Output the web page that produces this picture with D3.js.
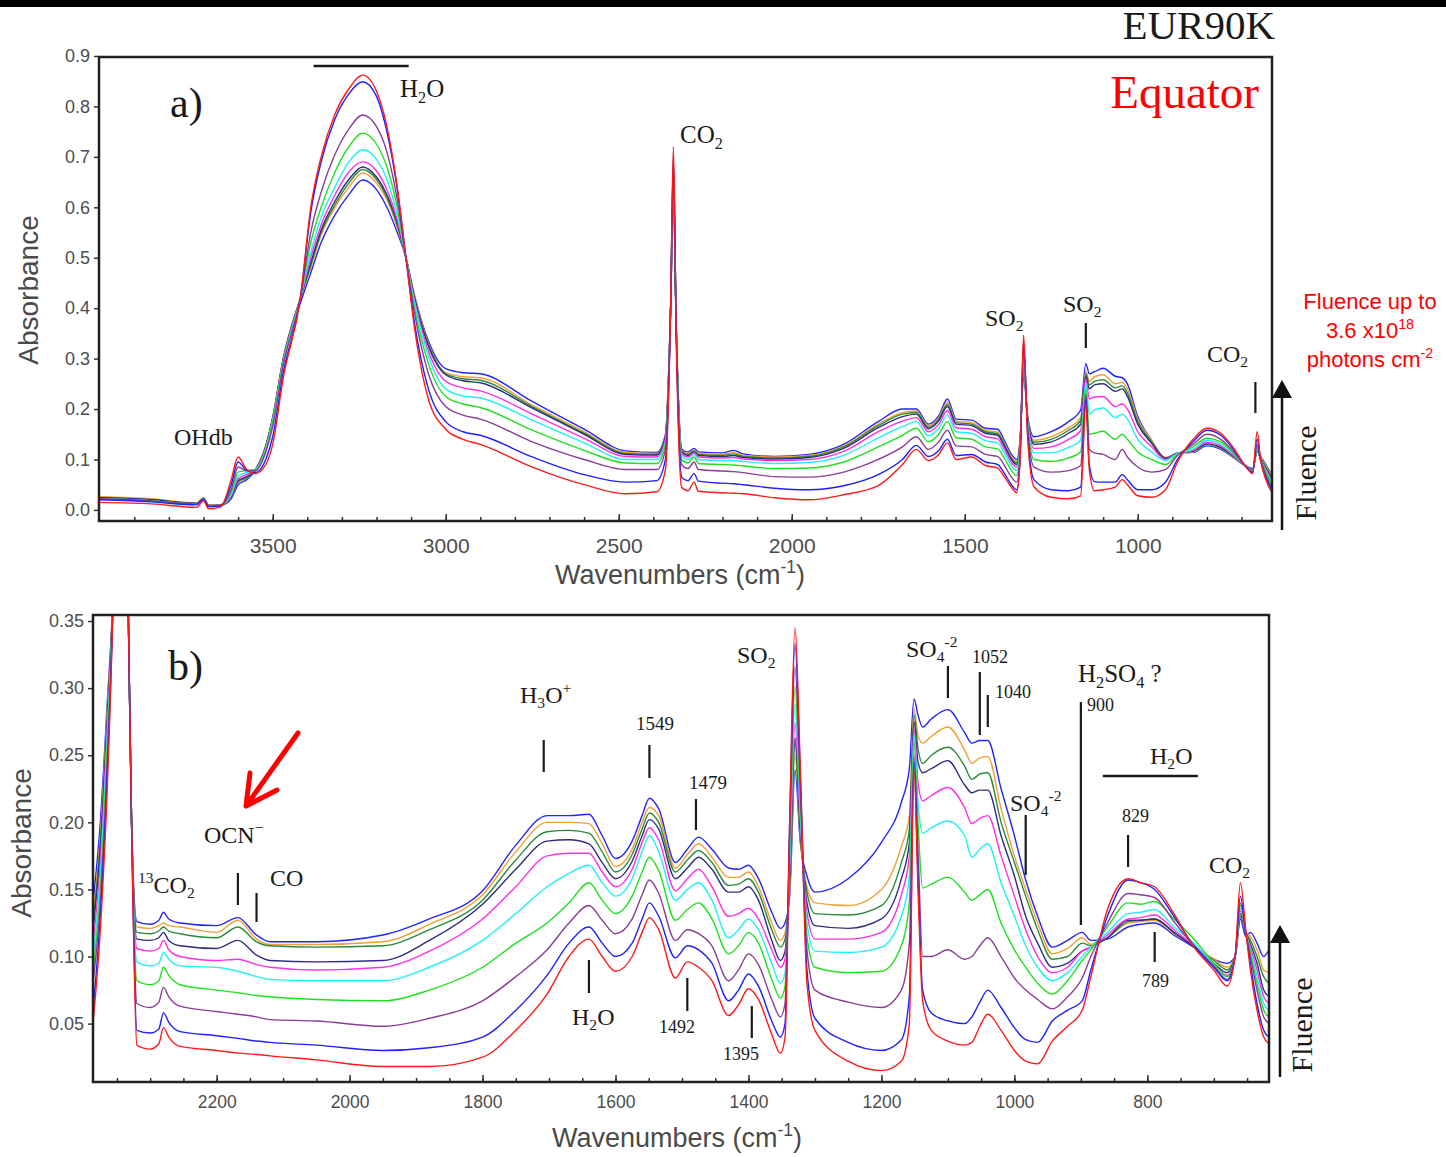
<!DOCTYPE html>
<html>
<head>
<meta charset="utf-8">
<script src="https://cdn.jsdelivr.net/npm/d3@7"></script>
<style>
  body { margin: 0; background: #fff; }
  svg { display: block; }
</style>
</head>
<body>
<div id="chart"></div>
<script>
// series order = increasing fluence: red, blue, purple, green, cyan, magenta, navy, dark green, orange, blue
var seriesColors = ['#ff1a1a', '#1f1fff', '#8b3c99', '#1fe01f', '#1ff0f5', '#ff2ee6', '#2e2e80', '#2a8a3a', '#f0a035', '#2424ff'];

// ---- panel a) full range
var aWave = [4000,3850,3720,3700,3685,3650,3620,3600,3575,3550,3520,3500,3470,3420,3390,3360,3320,3280,3240,3200,
  3170,3140,3115,3090,3050,3000,2950,2900,2750,2600,2480,2390,2365,2350,2342,2334,2318,2300,2282,2270,
  2200,2168,2140,2050,1950,1850,1750,1680,1640,1605,1575,1550,1525,1480,1440,1405,1385,1365,1350,1340,
  1330,1318,1300,1250,1200,1165,1150,1140,1125,1100,1065,1045,1030,1000,960,920,885,840,800,760,
  720,690,668,655,645,630,613];

var aRed = [.015,.012,.005,.018,.002,.006,.060,.105,.080,.072,
  .090,.130,.260,.420,.600,.700,.785,.835,.862,.830,
  .760,.640,.500,.360,.220,.160,.140,.130,.085,.050,
  .032,.036,.080,.400,.720,.350,.045,.038,.055,.037,
  .034,.033,.032,.024,.020,.030,.048,.090,.120,.098,
  .110,.133,.100,.105,.088,.083,.065,.045,.034,.100,
  .347,.140,.046,.025,.022,.028,.210,.080,.038,.040,
  .045,.060,.050,.028,.025,.040,.095,.140,.162,.152,
  .120,.088,.072,.155,.100,.060,.035];
var aBlue = [.020,.016,.010,.020,.006,.008,.050,.095,.078,.074,
  .100,.145,.270,.420,.590,.690,.775,.825,.849,.820,
  .750,.635,.500,.370,.240,.175,.155,.148,.105,.070,
  .055,.058,.100,.400,.700,.360,.065,.058,.072,.057,
  .053,.052,.050,.043,.040,.048,.070,.100,.128,.106,
  .118,.140,.108,.110,.095,.090,.072,.050,.040,.100,
  .335,.150,.060,.040,.038,.045,.220,.090,.056,.055,
  .055,.070,.060,.040,.040,.055,.100,.135,.158,.148,
  .117,.088,.074,.140,.098,.065,.040];
var aPurple = [.022,.018,.012,.022,.008,.010,.040,.085,.078,.078,
  .115,.165,.285,.420,.550,.630,.705,.755,.783,.760,
  .710,.615,.500,.390,.270,.205,.188,.180,.135,.100,
  .080,.080,.120,.400,.690,.370,.090,.082,.095,.080,
  .077,.076,.074,.066,.065,.075,.100,.125,.145,.120,
  .135,.158,.127,.125,.110,.106,.088,.065,.055,.110,
  .320,.160,.085,.075,.078,.088,.230,.120,.113,.110,
  .100,.120,.105,.085,.075,.080,.108,.130,.150,.140,
  .113,.088,.075,.130,.100,.070,.045];
var aGreen = [.022,.018,.012,.022,.008,.010,.035,.075,.078,.080,
  .120,.175,.290,.420,.530,.600,.670,.720,.747,.725,
  .680,.600,.500,.400,.290,.225,.210,.203,.158,.118,
  .093,.092,.130,.400,.680,.370,.100,.093,.105,.092,
  .090,.089,.087,.082,.083,.095,.125,.148,.162,.135,
  .150,.175,.143,.140,.125,.121,.102,.078,.068,.120,
  .310,.165,.100,.096,.103,.115,.240,.150,.152,.156,
  .140,.150,.140,.115,.100,.090,.110,.125,.142,.135,
  .110,.088,.076,.125,.100,.075,.050];
var aCyan = [.022,.018,.012,.022,.008,.010,.030,.068,.074,.080,
  .122,.178,.292,.420,.510,.580,.640,.690,.714,.695,
  .655,.585,.500,.410,.305,.240,.226,.222,.178,.133,
  .100,.100,.135,.400,.670,.370,.108,.100,.110,.100,
  .098,.098,.096,.092,.094,.108,.143,.165,.175,.147,
  .162,.188,.155,.152,.137,.133,.113,.088,.078,.125,
  .300,.170,.113,.113,.124,.138,.250,.190,.198,.202,
  .183,.190,.180,.140,.115,.098,.112,.120,.138,.130,
  .108,.088,.077,.122,.100,.078,.055];
var aMagenta = [.022,.018,.012,.022,.008,.010,.028,.062,.070,.080,
  .124,.180,.295,.420,.500,.565,.625,.670,.690,.672,
  .635,.575,.500,.415,.315,.255,.242,.236,.190,.142,
  .106,.105,.140,.400,.660,.370,.112,.105,.113,.105,
  .103,.104,.101,.098,.100,.116,.155,.176,.183,.155,
  .170,.197,.163,.160,.145,.141,.120,.094,.085,.130,
  .290,.175,.122,.125,.140,.157,.260,.220,.224,.225,
  .205,.210,.200,.155,.125,.100,.112,.118,.134,.127,
  .106,.088,.078,.120,.100,.080,.058];
var aNavy = [.024,.020,.013,.023,.009,.010,.026,.058,.066,.080,
  .126,.182,.297,.420,.490,.555,.612,.655,.680,.660,
  .625,.570,.500,.420,.325,.268,.256,.252,.202,.150,
  .110,.109,.145,.400,.650,.370,.115,.108,.115,.108,
  .106,.108,.104,.101,.104,.122,.163,.185,.190,.161,
  .177,.205,.170,.167,.152,.148,.126,.100,.090,.135,
  .283,.178,.130,.135,.152,.170,.265,.240,.248,.250,
  .235,.240,.225,.170,.132,.102,.112,.117,.131,.124,
  .105,.088,.079,.118,.100,.082,.060];
var aDkGreen = [.024,.020,.013,.023,.009,.010,.025,.056,.064,.080,
  .127,.183,.298,.420,.485,.550,.605,.648,.675,.655,
  .620,.565,.500,.420,.328,.270,.260,.257,.205,.152,
  .112,.110,.145,.400,.640,.370,.117,.110,.117,.110,
  .108,.111,.106,.103,.106,.125,.167,.190,.193,.164,
  .180,.209,.173,.170,.155,.151,.129,.102,.093,.137,
  .278,.180,.134,.140,.158,.177,.270,.248,.255,.258,
  .242,.246,.232,.175,.135,.103,.112,.116,.130,.123,
  .104,.088,.080,.117,.102,.085,.064];
var aOrange = [.026,.022,.014,.024,.010,.010,.025,.055,.063,.080,
  .128,.184,.300,.420,.480,.545,.600,.640,.668,.648,
  .615,.560,.500,.425,.330,.272,.264,.262,.208,.155,
  .114,.112,.148,.400,.630,.370,.119,.112,.119,.112,
  .110,.114,.108,.105,.108,.127,.170,.193,.196,.167,
  .183,.213,.176,.173,.158,.154,.132,.105,.096,.140,
  .272,.182,.138,.145,.163,.183,.275,.255,.264,.268,
  .250,.253,.240,.180,.138,.104,.112,.115,.129,.122,
  .103,.088,.080,.116,.104,.088,.068];
var aBlue2 = [.025,.020,.012,.022,.008,.009,.022,.050,.060,.078,
  .125,.180,.295,.410,.470,.530,.585,.625,.654,.635,
  .600,.550,.500,.425,.335,.280,.272,.270,.215,.160,
  .117,.114,.150,.400,.620,.370,.121,.115,.122,.115,
  .113,.118,.111,.106,.110,.130,.175,.200,.200,.170,
  .187,.220,.180,.178,.162,.160,.137,.110,.100,.140,
  .265,.185,.145,.155,.175,.198,.290,.270,.274,.281,
  .265,.262,.250,.185,.138,.102,.113,.114,.127,.120,
  .102,.088,.082,.115,.106,.090,.070];

// ---- panel b) zoom 2400-600
var bWave = [2386,2375,2365,2355,2343,2333,2328,2320,2300,2287,
  2280,2272,2255,2200,2168,2140,2120,2050,1950,1880,
  1800,1750,1703,1670,1640,1620,1600,1575,1560,1549,
  1535,1510,1492,1475,1455,1430,1415,1400,1385,1365,
  1352,1345,1338,1330,1322,1312,1300,1250,1200,1170,
  1158,1151,1145,1138,1125,1100,1075,1064,1052,1040,
  1020,1000,983,965,943,920,898,885,860,829,
  810,789,760,730,700,680,668,660,652,645,
  635,625,617];

var bRed = [.050,.120,.220,.380,.720,.360,.200,.034,.031,.035,
  .047,.040,.033,.030,.028,.027,.026,.023,.018,.018,
  .025,.045,.072,.100,.113,.100,.089,.100,.118,.129,
  .120,.084,.096,.092,.082,.056,.064,.076,.068,.042,
  .028,.040,.200,.345,.240,.080,.045,.022,.015,.022,
  .050,.240,.150,.067,.045,.037,.034,.036,.048,.057,
  .045,.030,.022,.020,.037,.048,.060,.085,.135,.158,
  .155,.152,.132,.107,.090,.078,.100,.155,.120,.090,
  .060,.040,.035];
var bBlue = [.060,.130,.230,.380,.700,.360,.200,.045,.043,.046,
  .058,.051,.044,.041,.039,.037,.036,.034,.030,.032,
  .040,.060,.086,.110,.122,.110,.100,.110,.128,.140,
  .130,.099,.108,.105,.095,.067,.075,.087,.078,.052,
  .040,.050,.200,.333,.235,.090,.054,.036,.030,.038,
  .070,.245,.160,.075,.058,.052,.050,.055,.066,.075,
  .062,.047,.038,.036,.052,.060,.067,.090,.130,.157,
  .155,.150,.130,.108,.092,.082,.100,.145,.118,.095,
  .065,.045,.040];
var bPurple = [.080,.140,.240,.380,.690,.360,.200,.065,.062,.066,
  .077,.070,.063,.059,.057,.055,.053,.052,.048,.054,
  .067,.085,.105,.125,.138,.127,.117,.128,.146,.157,
  .147,.112,.120,.117,.108,.082,.090,.102,.094,.068,
  .055,.065,.190,.316,.225,.105,.075,.066,.062,.075,
  .110,.250,.180,.100,.100,.105,.098,.100,.108,.114,
  .100,.084,.075,.068,.061,.070,.084,.100,.125,.147,
  .146,.144,.126,.108,.093,.083,.100,.140,.118,.100,
  .075,.055,.050];
var bGreen = [.090,.150,.250,.380,.680,.360,.200,.082,.079,.082,
  .092,.086,.079,.075,.073,.071,.070,.068,.067,.075,
  .092,.110,.125,.140,.155,.142,.132,.145,.163,.174,
  .164,.127,.135,.140,.128,.102,.108,.118,.110,.083,
  .069,.078,.180,.301,.215,.115,.092,.088,.089,.108,
  .140,.260,.200,.151,.154,.159,.148,.142,.146,.150,
  .125,.105,.092,.080,.072,.082,.097,.105,.122,.140,
  .139,.141,.128,.113,.095,.085,.100,.138,.118,.103,
  .080,.060,.055];
var bCyan = [.100,.160,.260,.380,.670,.360,.200,.096,.093,.095,
  .103,.098,.093,.092,.089,.085,.083,.082,.082,.092,
  .112,.132,.152,.162,.168,.155,.145,.158,.178,.190,
  .178,.142,.150,.155,.142,.114,.120,.128,.120,.095,
  .080,.088,.170,.288,.205,.125,.104,.103,.107,.130,
  .160,.265,.215,.192,.196,.201,.190,.174,.180,.184,
  .155,.130,.108,.092,.082,.088,.100,.107,.118,.132,
  .133,.135,.122,.110,.094,.085,.100,.136,.118,.105,
  .085,.065,.060];
var bMagenta = [.110,.170,.265,.380,.660,.360,.200,.106,.104,.106,
  .112,.105,.100,.097,.098,.094,.092,.090,.092,.104,
  .128,.152,.175,.177,.177,.163,.152,.165,.185,.196,
  .187,.149,.158,.165,.152,.130,.132,.136,.128,.105,
  .092,.098,.165,.274,.200,.133,.113,.113,.118,.146,
  .175,.270,.230,.216,.220,.226,.211,.199,.203,.205,
  .175,.145,.120,.100,.088,.092,.104,.107,.116,.128,
  .129,.131,.120,.108,.094,.086,.100,.134,.118,.107,
  .090,.070,.065];
var bNavy = [.120,.180,.270,.380,.650,.360,.200,.113,.112,.114,
  .118,.112,.108,.106,.112,.101,.097,.096,.097,.112,
  .139,.165,.186,.187,.184,.170,.158,.171,.190,.202,
  .195,.158,.166,.174,.165,.148,.148,.152,.142,.112,
  .097,.104,.160,.263,.195,.140,.123,.121,.128,.158,
  .185,.275,.245,.237,.240,.246,.228,.222,.224,.224,
  .190,.160,.130,.110,.092,.095,.104,.107,.114,.127,
  .127,.128,.118,.107,.095,.088,.100,.132,.118,.109,
  .095,.075,.070];
var bDkGreen = [.125,.185,.275,.380,.640,.360,.200,.118,.117,.119,
  .122,.119,.117,.114,.122,.111,.108,.107,.108,.120,
  .142,.172,.193,.194,.192,.178,.163,.176,.195,.207,
  .200,.163,.172,.179,.170,.153,.154,.158,.148,.120,
  .107,.113,.155,.260,.190,.148,.132,.131,.138,.170,
  .195,.280,.255,.244,.250,.256,.242,.232,.236,.237,
  .200,.170,.145,.120,.098,.100,.110,.108,.114,.126,
  .127,.128,.118,.108,.097,.090,.100,.130,.118,.112,
  .100,.085,.080];
var bOrange = [.130,.190,.280,.380,.630,.360,.200,.122,.121,.123,
  .125,.123,.122,.118,.127,.113,.109,.109,.111,.124,
  .146,.178,.200,.200,.199,.184,.167,.180,.200,.211,
  .205,.166,.176,.184,.174,.159,.159,.163,.152,.125,
  .112,.118,.150,.250,.188,.152,.140,.138,.150,.182,
  .205,.285,.265,.259,.264,.271,.254,.244,.248,.249,
  .210,.175,.150,.125,.102,.106,.114,.109,.114,.125,
  .126,.127,.117,.108,.098,.092,.100,.130,.118,.115,
  .105,.090,.088];
var bBlue2 = [.140,.200,.285,.380,.620,.360,.200,.126,.124,.127,
  .133,.128,.125,.123,.129,.116,.111,.111,.116,.128,
  .149,.183,.205,.205,.206,.190,.173,.186,.205,.218,
  .210,.170,.180,.189,.180,.166,.165,.168,.158,.133,
  .121,.125,.145,.239,.185,.160,.148,.158,.185,.215,
  .240,.292,.280,.271,.277,.284,.267,.259,.261,.261,
  .225,.190,.157,.130,.107,.112,.118,.112,.113,.122,
  .124,.125,.116,.107,.098,.095,.100,.128,.115,.118,
  .110,.100,.105];

var aSeries = [aRed, aBlue, aPurple, aGreen, aCyan, aMagenta, aNavy, aDkGreen, aOrange, aBlue2];
var bSeries = [bRed, bBlue, bPurple, bGreen, bCyan, bMagenta, bNavy, bDkGreen, bOrange, bBlue2];

var aXMajor = [3500, 3000, 2500, 2000, 1500, 1000];
var aYTicks = [0, 0.1, 0.2, 0.3, 0.4, 0.5, 0.6, 0.7, 0.8, 0.9];
var bXMajor = [2200, 2000, 1800, 1600, 1400, 1200, 1000, 800];
var bYTicks = [0.05, 0.10, 0.15, 0.20, 0.25, 0.30, 0.35];

var W = 1446, H = 1157;
var serif = "'Liberation Serif', 'Times New Roman', serif";
var sans = "'Liberation Sans', Arial, sans-serif";

var svg = d3.select("#chart").append("svg")
    .attr("width", W)
    .attr("height", H);

svg.append("rect").attr("width", W).attr("height", H).attr("fill", "#fff");
svg.append("rect").attr("width", W).attr("height", 7).attr("fill", "#000");

// text with sub/superscripts: parts = [[string, 'sub'|'sup'|null], ...]
function rich(g, x, y, parts, size, opts) {
  opts = opts || {};
  var t = g.append("text")
      .attr("x", x).attr("y", y)
      .attr("font-size", size)
      .attr("font-family", opts.family || serif)
      .attr("fill", opts.fill || "#1a1a1a")
      .attr("text-anchor", opts.anchor || "start");
  var shift = 0;
  parts.forEach(function(p) {
    var target = p[1] === "sub" ? 0.22 * size : p[1] === "sup" ? -0.4 * size : 0;
    var ts = t.append("tspan").text(p[0]).attr("dy", target - shift);
    if (p[1]) ts.attr("font-size", size * 0.65);
    shift = target;
  });
  return t;
}

function drawPanel(cfg) {
  var x = d3.scaleLinear().domain(cfg.xDomain).range([cfg.left, cfg.right]);
  var y = d3.scaleLinear().domain(cfg.yDomain).range([cfg.bottom, cfg.top]);
  var g = svg.append("g");

  var clipId = "clip-" + cfg.name;
  svg.append("clipPath").attr("id", clipId)
    .append("rect")
      .attr("x", cfg.left).attr("y", cfg.top)
      .attr("width", cfg.right - cfg.left).attr("height", cfg.bottom - cfg.top);

  var line = d3.line()
      .x(function(d, i) { return x(cfg.wave[i]); })
      .y(function(d) { return y(d); })
      .curve(d3.curveMonotoneX);

  // highest fluence drawn first, unirradiated (red) on top
  var order = d3.range(cfg.series.length).reverse();
  g.append("g").attr("clip-path", "url(#" + clipId + ")")
    .selectAll("path")
    .data(order)
    .enter().append("path")
      .attr("d", function(k) { return line(cfg.series[k]); })
      .attr("fill", "none")
      .attr("stroke", function(k) { return seriesColors[k]; })
      .attr("stroke-width", 1.4)
      .attr("stroke-linejoin", "round");

  // minor x ticks (inward)
  g.append("g")
      .attr("transform", "translate(0," + cfg.bottom + ")")
      .call(d3.axisBottom(x).tickValues(cfg.xMinor).tickSize(-4).tickFormat(""))
      .call(function(a) { a.select(".domain").remove(); a.selectAll("line").attr("stroke", "#333").attr("stroke-width", 1.5); });

  // major x ticks
  g.append("g")
      .attr("transform", "translate(0," + cfg.bottom + ")")
      .call(d3.axisBottom(x).tickValues(cfg.xMajor).tickSize(-7).tickPadding(cfg.xPad).tickFormat(d3.format("d")))
      .call(function(a) {
        a.select(".domain").remove();
        a.selectAll("line").attr("stroke", "#333").attr("stroke-width", 1.5);
        a.selectAll("text").attr("font-family", sans).attr("font-size", cfg.xFont).attr("fill", "#4d4d4d");
      });

  // y ticks (outward)
  g.append("g")
      .attr("transform", "translate(" + cfg.left + ",0)")
      .call(d3.axisLeft(y).tickValues(cfg.yTicks).tickSize(5).tickPadding(4).tickFormat(d3.format(cfg.yFormat)))
      .call(function(a) {
        a.select(".domain").remove();
        a.selectAll("line").attr("stroke", "#333").attr("stroke-width", 1.5);
        a.selectAll("text").attr("font-family", sans).attr("font-size", 18).attr("fill", "#4d4d4d");
      });

  // frame
  g.append("rect")
      .attr("x", cfg.left).attr("y", cfg.top)
      .attr("width", cfg.right - cfg.left).attr("height", cfg.bottom - cfg.top)
      .attr("fill", "none").attr("stroke", "#222").attr("stroke-width", 2.5);

  // axis titles
  g.append("text")
      .attr("transform", "translate(" + cfg.yTitle[0] + "," + cfg.yTitle[1] + ") rotate(-90)")
      .attr("text-anchor", "middle")
      .attr("font-family", sans).attr("font-size", 28).attr("fill", "#4a4a4a")
      .text("Absorbance");
  rich(g, cfg.xTitle[0], cfg.xTitle[1], [["Wavenumbers (cm"], ["-1", "sup"], [")"]], 27,
       {family: sans, fill: "#4a4a4a", anchor: "middle"});

  // fluence arrow
  var fx = cfg.arrow[0];
  g.append("line").attr("x1", fx).attr("x2", fx).attr("y1", cfg.arrow[2]).attr("y2", cfg.arrow[1] + 12)
      .attr("stroke", "#111").attr("stroke-width", 2.5);
  g.append("path")
      .attr("d", "M" + fx + "," + cfg.arrow[1] + "L" + (fx - 10) + "," + (cfg.arrow[1] + 18) + "L" + (fx + 10) + "," + (cfg.arrow[1] + 18) + "Z")
      .attr("fill", "#111");
  g.append("text")
      .attr("transform", "translate(" + cfg.fluence[0] + "," + cfg.fluence[1] + ") rotate(-90)")
      .attr("text-anchor", "middle")
      .attr("font-family", serif).attr("font-size", 30).attr("fill", "#1a1a1a")
      .text("Fluence");

  // peak markers
  cfg.marks.forEach(function(m) {
    g.append("line").attr("x1", x(m[0])).attr("x2", x(m[0])).attr("y1", m[1]).attr("y2", m[2])
        .attr("stroke", "#1a1a1a").attr("stroke-width", 2.2);
  });
  cfg.bars.forEach(function(b) {
    g.append("line").attr("x1", x(b[0])).attr("x2", x(b[1])).attr("y1", b[2]).attr("y2", b[2])
        .attr("stroke", "#1a1a1a").attr("stroke-width", 2.5);
  });
  cfg.labels.forEach(function(l) {
    rich(g, l[0], l[1], l[2], l[3]);
  });
  return g;
}

drawPanel({
  name: "a", wave: aWave, series: aSeries,
  xDomain: [4002, 612], yDomain: [-0.022, 0.898],
  left: 99, right: 1272, top: 57, bottom: 521,
  xMajor: aXMajor, xMinor: d3.range(3900, 650, -100), xPad: 17, xFont: 21,
  yTicks: aYTicks, yFormat: ".1f",
  yTitle: [38, 290], xTitle: [680, 584],
  arrow: [1282, 380, 530], fluence: [1316, 473],
  marks: [[1150, 323, 348], [660, 382, 413]],
  bars: [[3382, 3107, 66]],
  labels: [
    [170, 117, [["a)"]], 42],
    [400, 97, [["H"], ["2", "sub"], ["O"]], 25],
    [680, 143, [["CO"], ["2", "sub"]], 25],
    [174, 445, [["OHdb"]], 24],
    [985, 326, [["SO"], ["2", "sub"]], 24],
    [1063, 312, [["SO"], ["2", "sub"]], 24],
    [1207, 362, [["CO"], ["2", "sub"]], 24]
  ]
});

drawPanel({
  name: "b", wave: bWave, series: bSeries,
  xDomain: [2386, 617], yDomain: [0.0065, 0.3545],
  left: 93, right: 1269, top: 615, bottom: 1082,
  xMajor: bXMajor, xMinor: d3.range(2350, 600, -50), xPad: 14, xFont: 17.5,
  yTicks: bYTicks, yFormat: ".2f",
  yTitle: [31, 843], xTitle: [677, 1147],
  arrow: [1280, 925, 1077], fluence: [1312, 1025],
  marks: [[2168, 873, 905], [2140, 893, 922], [1708, 740, 772], [1549, 745, 778], [1479, 799, 830],
          [1100, 666, 698], [1052, 672, 735], [1040, 695, 727], [900, 702, 925], [983, 815, 875],
          [829, 835, 867], [789, 932, 962], [1640, 960, 993], [1492, 978, 1011], [1395, 1006, 1038]],
  bars: [[867, 724, 776]],
  labels: [
    [168, 680, [["b)"]], 42],
    [138, 893, [["13", "sup"], ["CO"], ["2", "sub"]], 24],
    [204, 843, [["OCN"], ["\u2212", "sup"]], 24],
    [270, 886, [["CO"]], 24],
    [520, 703, [["H"], ["3", "sub"], ["O"], ["+", "sup"]], 24],
    [636, 730, [["1549"]], 19],
    [689, 789, [["1479"]], 19],
    [737, 663, [["SO"], ["2", "sub"]], 24],
    [906, 657, [["SO"], ["4", "sub"], ["-2", "sup"]], 24],
    [972, 663, [["1052"]], 18],
    [995, 698, [["1040"]], 18],
    [1078, 682, [["H"], ["2", "sub"], ["SO"], ["4", "sub"], [" ?"]], 25],
    [1087, 711, [["900"]], 18],
    [1150, 764, [["H"], ["2", "sub"], ["O"]], 24],
    [1010, 811, [["SO"], ["4", "sub"], ["-2", "sup"]], 24],
    [1122, 822, [["829"]], 18],
    [1209, 873, [["CO"], ["2", "sub"]], 24],
    [1142, 987, [["789"]], 18],
    [572, 1025, [["H"], ["2", "sub"], ["O"]], 24],
    [659, 1033, [["1492"]], 18],
    [723, 1060, [["1395"]], 18]
  ]
});

// red arrow pointing at the OCN- band
svg.append("path")
    .attr("d", "M298,733L246,806M250,773L246,806L277,790")
    .attr("fill", "none").attr("stroke", "#ff0000").attr("stroke-width", 5)
    .attr("stroke-linecap", "round").attr("stroke-linejoin", "round");

// headings
svg.append("text").attr("x", 1275).attr("y", 39).attr("text-anchor", "end")
    .attr("font-family", serif).attr("font-size", 41).attr("fill", "#1a1a1a").text("EUR90K");
svg.append("text").attr("x", 1259).attr("y", 108).attr("text-anchor", "end")
    .attr("font-family", serif).attr("font-size", 47).attr("fill", "#ff0000").text("Equator");

rich(svg, 1370, 309, [["Fluence up to"]], 22, {family: sans, fill: "#ff0000", anchor: "middle"});
rich(svg, 1370, 338, [["3.6 x10"], ["18", "sup"]], 22, {family: sans, fill: "#ff0000", anchor: "middle"});
rich(svg, 1370, 367, [["photons cm"], ["-2", "sup"]], 22, {family: sans, fill: "#ff0000", anchor: "middle"});
</script>
</body>
</html>
